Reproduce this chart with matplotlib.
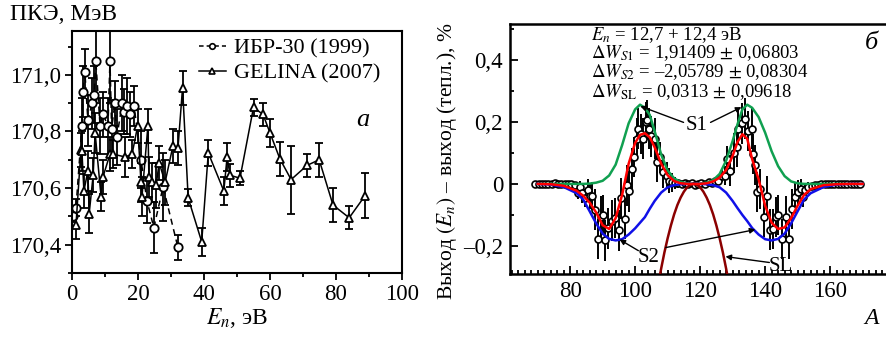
import numpy as np
import matplotlib.pyplot as plt
from matplotlib.lines import Line2D
from matplotlib.ticker import MultipleLocator, FuncFormatter

plt.rcParams['font.family'] = 'Liberation Serif'
plt.rcParams['mathtext.fontset'] = 'stix'

# ---- panel a: ПКЭ vs neutron energy ----
ibr_E = [0.3, 1.2, 3.0, 3.3, 3.9, 4.8, 6.1, 6.7, 7.2, 8.5, 9.4, 10.9, 11.5, 12.0,
         13.0, 13.6, 15.2, 15.8, 16.7, 17.5, 18.8, 20.9, 22.7, 24.8, 27.6, 32.1]
ibr_v = [170.50, 170.53, 170.82, 170.94, 171.01, 170.84, 170.90, 170.93, 171.05,
         170.82, 170.86, 170.82, 171.05, 170.81, 170.90, 170.78, 170.90, 170.87,
         170.89, 170.86, 170.89, 170.70, 170.555, 170.46, 170.605, 170.39]
ibr_err = [0.02, 0.03, 0.10, 0.09, 0.08, 0.09, 0.09, 0.10, 0.15, 0.10, 0.08, 0.10,
           0.15, 0.10, 0.08, 0.10, 0.10, 0.08, 0.10, 0.08, 0.07, 0.10, 0.08, 0.09,
           0.12, 0.045]

gel_E = [1.2, 2.7, 3.0, 3.6, 4.8, 5.2, 6.4, 7.0, 8.8, 9.4, 11.5, 12.4, 16.1, 18.2,
         19.9, 20.9, 21.2, 23.0, 23.3, 24.2, 25.5, 26.4, 28.2, 30.6, 32.1, 33.5,
         35.2, 39.3, 41.3, 46.0, 47.0, 47.9, 50.9, 55.0, 57.9, 60.0, 63.0, 66.4,
         71.2, 74.9, 79.1, 84.0, 88.8]
gel_v = [170.47, 170.735, 170.73, 170.59, 170.66, 170.51, 170.645, 170.795, 170.57,
         170.64, 170.72, 170.72, 170.71, 170.72, 170.82, 170.62, 170.57, 170.82,
         170.64, 170.62, 170.61, 170.69, 170.62, 170.75, 170.74, 170.955, 170.565,
         170.41, 170.724, 170.59, 170.71, 170.645, 170.635, 170.885, 170.86,
         170.795, 170.703, 170.63, 170.68, 170.70, 170.54, 170.495, 170.573]
gel_err = [0.05, 0.06, 0.07, 0.06, 0.07, 0.07, 0.06, 0.07, 0.05, 0.06, 0.06, 0.05,
           0.07, 0.05, 0.06, 0.07, 0.07, 0.06, 0.07, 0.07, 0.08, 0.06, 0.08, 0.06,
           0.06, 0.06, 0.03, 0.05, 0.045, 0.05, 0.05, 0.04, 0.025, 0.03, 0.04,
           0.05, 0.06, 0.12, 0.04, 0.06, 0.06, 0.04, 0.08]

# ---- panel b: yield difference vs mass number ----
pts_A = [69.3, 70.3, 71.3, 72.3, 73.3, 74.3, 75.3, 76.3, 77.3, 78.3, 79.3, 80.4,
         81.4, 82.3, 83.0, 83.8, 84.6, 85.4, 86.1, 86.8, 87.7, 88.7, 89.6, 90.2,
         90.8, 91.8, 92.8, 93.8, 94.9, 95.8, 96.9, 97.4, 98.2, 99.0, 99.5, 100.5,
         101.0, 101.7, 102.3, 103.2, 103.6, 104.2, 105.0, 106.2, 106.7, 107.7,
         108.7, 109.7, 110.5, 111.3, 112.3, 113.3, 114.4, 115.4, 116.4, 117.4,
         118.3, 119.3, 120.3, 121.5, 122.6, 123.6, 124.6, 125.6, 126.6, 127.7,
         128.2, 129.2, 130.3, 131.3, 131.8, 132.8, 133.8, 134.8, 135.9, 136.4,
         136.9, 137.6, 138.5, 139.5, 140.5, 141.5, 142.3, 143.2, 144.1, 145.1,
         146.4, 147.2, 148.2, 149.1, 150.2, 150.9, 151.6, 152.3, 153.3, 154.3,
         155.3, 156.3, 157.3, 158.3, 159.3, 160.3, 161.3, 162.3, 163.3, 164.3,
         165.3, 166.3, 167.3, 168.3, 169.3]
pts_v = [0.0, 0.0, 0.0, 0.0, 0.0, 0.0, 0.003, 0.0, 0.0, 0.0, 0.0, 0.0,
         -0.003, -0.03, -0.01, -0.03, -0.045, -0.02, -0.04, -0.04, -0.083, -0.177,
         -0.105, -0.1, -0.182, -0.143, -0.118, -0.11, -0.15, -0.047, -0.112,
         -0.005, -0.024, 0.049, 0.086, 0.146, 0.178, 0.16, 0.146, 0.198, 0.205,
         0.178, 0.153, 0.146, 0.07, 0.086, 0.038, 0.027, 0.01, 0.005, 0.003,
         0.002, 0.0, 0.003, 0.0, 0.002, -0.003, 0.0, 0.003, 0.0, 0.005, 0.003,
         0.008, 0.01, 0.027, 0.027, 0.081, 0.043, 0.1, 0.119, 0.178, 0.195, 0.21,
         0.17, 0.178, 0.097, 0.06, -0.027, -0.016, -0.107, -0.04, -0.147, -0.145,
         -0.107, -0.1, -0.177, -0.105, -0.177, -0.08, -0.043, -0.026, -0.015,
         -0.043, -0.02, -0.01, -0.008, -0.005, -0.003, 0.0, 0.0, 0.0, 0.0, 0.0,
         0.0, 0.0, 0.0, 0.0, 0.0, 0.0, 0.0, 0.0]
pts_err = ([0.003] * 12
           + [0.01, 0.02, 0.02, 0.03, 0.03, 0.035, 0.04, 0.045]
           + [0.065] * 25
           + [0.05, 0.05, 0.045, 0.04, 0.03, 0.02, 0.015, 0.01, 0.01]
           + [0.005] * 8
           + [0.01, 0.015, 0.02, 0.03, 0.04, 0.05]
           + [0.065] * 21
           + [0.05, 0.04, 0.03, 0.03, 0.02, 0.015, 0.01, 0.008]
           + [0.004] * 14)

fit_A = [70, 74, 78, 82, 84, 86, 88, 90, 92, 94, 96, 98, 100, 101.5, 103, 104.5,
         106, 108, 110, 112, 114, 116, 118, 120, 122, 124, 126, 128, 130, 131.5,
         133, 134.5, 136, 138, 140, 142, 144, 146, 148, 150, 152, 154, 158, 162,
         166, 170]
s1_v = [0, 0, 0, 0, 0, 0.001, 0.004, 0.01, 0.027, 0.062, 0.125, 0.195, 0.24,
        0.255, 0.245, 0.222, 0.17, 0.095, 0.043, 0.018, 0.006, 0.002, 0, 0.001,
        0.004, 0.012, 0.032, 0.075, 0.138, 0.192, 0.24, 0.255, 0.245, 0.215, 0.165,
        0.105, 0.057, 0.025, 0.008, 0.002, 0, 0, 0, 0, 0, 0]
s2_v = [0, -0.002, -0.01, -0.03, -0.05, -0.088, -0.127, -0.16, -0.177, -0.182,
        -0.178, -0.163, -0.143, -0.125, -0.107, -0.08, -0.055, -0.028, -0.011,
        -0.004, -0.001, 0, 0, 0, -0.001, -0.004, -0.011, -0.028, -0.055, -0.078,
        -0.1, -0.12, -0.142, -0.163, -0.178, -0.182, -0.177, -0.16, -0.127,
        -0.088, -0.05, -0.03, -0.01, -0.002, 0, 0]
tot_v = [0, -0.001, -0.006, -0.022, -0.038, -0.06, -0.092, -0.133, -0.145, -0.11,
         -0.035, 0.065, 0.132, 0.158, 0.163, 0.15, 0.118, 0.065, 0.028, 0.009,
         0.002, 0, 0, 0, 0.002, 0.008, 0.02, 0.045, 0.09, 0.135, 0.16, 0.145, 0.08,
         0.015, -0.07, -0.125, -0.145, -0.14, -0.11, -0.07, -0.035, -0.017, -0.004,
         -0.001, 0, 0]
sl_A = [106, 107, 108, 109, 110, 111, 112, 113, 114, 115, 116, 117, 118, 119, 120,
        121, 122, 123, 124, 125, 126, 127, 128, 129, 130]
sl_v = [-0.393, -0.33, -0.273, -0.221, -0.175, -0.134, -0.098, -0.068, -0.044,
        -0.025, -0.011, -0.003, 0, -0.003, -0.011, -0.025, -0.044, -0.068, -0.098,
        -0.134, -0.175, -0.221, -0.273, -0.33, -0.393]


def comma_fmt(v, pos):
    if abs(v) < 1e-9:
        return '0'
    s = f'{abs(v):.1f}'.replace('.', ',')
    return ('\u2013' + s) if v < 0 else s


fig = plt.figure(figsize=(8.87, 3.37), dpi=100)

ax1 = fig.add_axes([0.0812, 0.19, 0.372, 0.718])
ax1.errorbar(ibr_E, ibr_v, yerr=ibr_err, fmt='--o', color='k', lw=1.1,
             elinewidth=1.3, capsize=3, capthick=1.3, ms=6, mfc='white', mec='k',
             mew=1.3, dashes=(4, 3))
ax1.errorbar(gel_E, gel_v, yerr=gel_err, fmt='-^', color='k', lw=1.1,
             elinewidth=1.3, capsize=3, capthick=1.3, ms=6, mfc='white', mec='k',
             mew=1.3)
ax1.set_xlim(0, 100)
ax1.set_ylim(170.30, 171.155)
ax1.xaxis.set_major_locator(MultipleLocator(20))
ax1.xaxis.set_minor_locator(MultipleLocator(10))
ax1.yaxis.set_major_locator(MultipleLocator(0.2))
ax1.yaxis.set_minor_locator(MultipleLocator(0.1))
ax1.yaxis.set_major_formatter(FuncFormatter(lambda v, p: f'{v:.1f}'.replace('.', ',')))
ax1.tick_params(which='both', direction='out', labelsize=16.5, width=1.3, pad=3)
ax1.tick_params(which='major', length=5)
ax1.tick_params(which='minor', length=3)
for s in ax1.spines.values():
    s.set_linewidth(1.5)
ax1.set_xlabel('$E_n$, эВ', fontsize=17, labelpad=1)
handles = [Line2D([], [], color='k', lw=1.1, ls='--', dashes=(3, 2), marker='o',
                  ms=4, mfc='white', mec='k', mew=1.2),
           Line2D([], [], color='k', lw=1.1, marker='^', ms=4.5, mfc='white',
                  mec='k', mew=1.2)]
ax1.legend(handles, ['ИБР-30 (1999)', 'GELINA (2007)'], loc='upper left',
           bbox_to_anchor=(0.385, 0.97), fontsize=16, frameon=False,
           handlelength=1.2, handletextpad=0.35, borderaxespad=0, borderpad=0,
           labelspacing=0.2)
ax1.text(88.2, 170.84, 'а', fontsize=19, style='italic', ha='center', va='center')
fig.text(0.011, 0.958, 'ПКЭ, МэВ', fontsize=17, ha='left', va='center')

ax2 = fig.add_axes([0.575, 0.187, 0.425, 0.742])
ax2.errorbar(pts_A, pts_v, yerr=pts_err, fmt='o', color='k', elinewidth=1.4,
             ms=5, mfc='white', mec='k', mew=1.2, zorder=2)
ax2.plot(fit_A, s1_v, color='#10a050', lw=1.8, zorder=3)
ax2.plot(fit_A, s2_v, color='#1010e8', lw=1.8, zorder=3)
ax2.plot(fit_A, tot_v, color='#ff0000', lw=1.8, zorder=4)
ax2.plot(sl_A, sl_v, color='#8b0000', lw=1.8, zorder=3)
ax2.set_xlim(61.5, 177.5)
ax2.set_ylim(-0.29, 0.515)
ax2.xaxis.set_major_locator(MultipleLocator(20))
ax2.xaxis.set_minor_locator(MultipleLocator(2))
ax2.yaxis.set_major_locator(MultipleLocator(0.2))
ax2.yaxis.set_minor_locator(MultipleLocator(0.1))
ax2.yaxis.set_major_formatter(FuncFormatter(comma_fmt))
ax2.tick_params(which='both', direction='in', labelsize=16.5, width=1.3, pad=5)
ax2.tick_params(which='major', length=6)
ax2.tick_params(which='minor', length=3)
ax2.spines['right'].set_visible(False)
for s in ['left', 'bottom', 'top']:
    ax2.spines[s].set_linewidth(1.8)

txt_kw = dict(fontsize=13.5, ha='left', va='center')
ax2.text(86.3, 0.479, '$E_n$ = 12,7 + 12,4 эВ', **txt_kw)
ax2.text(86.3, 0.421, '$\\Delta W_{S1}$ = 1,91409 $\\pm$ 0,06803', **txt_kw)
ax2.text(86.3, 0.360, '$\\Delta W_{S2}$ = \u20132,05789 $\\pm$ 0,08304', **txt_kw)
ax2.text(86.3, 0.297, '$\\Delta W_{\\mathrm{SL}}$ = 0,0313 $\\pm$ 0,09618', **txt_kw)
ax2.text(172.7, 0.453, 'б', fontsize=19, style='italic', ha='center', va='center')

arr = dict(arrowstyle='-|>', color='k', lw=1.0, mutation_scale=8, shrinkA=0, shrinkB=0)
ax2.text(118.9, 0.188, 'S1', fontsize=15, ha='center', va='center')
ax2.annotate('', xy=(101.6, 0.25), xytext=(114.9, 0.198), arrowprops=arr)
ax2.annotate('', xy=(132.7, 0.247), xytext=(123.2, 0.198), arrowprops=arr)
ax2.text(104.1, -0.237, 'S2', fontsize=15, ha='center', va='center')
ax2.annotate('', xy=(95.2, -0.179), xytext=(101.0, -0.215), arrowprops=arr)
ax2.annotate('', xy=(137.0, -0.147), xytext=(109.4, -0.205), arrowprops=arr)
ax2.text(144.7, -0.266, 'SL', fontsize=15, ha='center', va='center')
ax2.annotate('', xy=(127.8, -0.234), xytext=(141.3, -0.253), arrowprops=arr)

fig.text(0.983, 0.055, 'A', fontsize=17, style='italic', ha='center', va='center')
fig.text(0.504, 0.52, 'Выход $(E_n)$ \u2013 выход (тепл.), %', fontsize=15.5,
         rotation=90, ha='center', va='center')

fig.savefig('out.png', dpi=100)
